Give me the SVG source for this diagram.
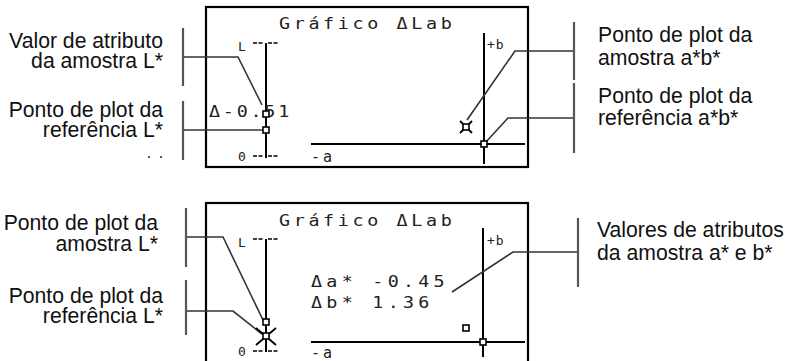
<svg xmlns="http://www.w3.org/2000/svg" width="793" height="361" viewBox="0 0 793 361">
<style>
.lbl{font-family:"Liberation Sans",Arial,sans-serif;font-size:21.2px;fill:#111}
.end{text-anchor:end}
.lcd{font-family:"DejaVu Sans Mono","Liberation Mono",monospace;fill:#222}
.title{font-size:16px;letter-spacing:3.15px}
.val{font-size:16px}
.small{font-size:13px}
.frame{fill:none;stroke:#000;stroke-width:2.2}
.axis{fill:none;stroke:#000;stroke-width:2}
.tick{fill:none;stroke:#000;stroke-width:1.4;stroke-dasharray:4 1.5}
.pt{fill:#fff;stroke:#000;stroke-width:1.6}
.lead{fill:none;stroke:#333;stroke-width:1.6}
.brk{fill:none;stroke:#555;stroke-width:2.2}
</style>

<!-- Top panel -->
<g id="panel-top">
  <rect class="frame" x="206" y="7" width="322" height="160"/>
  <text class="lcd title" transform="translate(279,29) scale(1.15,1)">Gráfico ΔLab</text>
  <line class="axis" x1="266" y1="43" x2="266" y2="158"/>
  <line class="tick" x1="253" y1="43" x2="264" y2="43"/>
  <line class="tick" x1="268" y1="43" x2="279" y2="43"/>
  <line class="tick" x1="253" y1="156" x2="264" y2="156"/>
  <line class="tick" x1="268" y1="156" x2="279" y2="156"/>
  <text class="lcd small" x="238" y="51">L</text>
  <text class="lcd small" x="238" y="161">0</text>
  <text class="lcd val" transform="translate(209,117) scale(1.15,1)" letter-spacing="2.4">Δ-0.51</text>
  <line class="axis" x1="484" y1="33" x2="484" y2="164"/>
  <line class="axis" x1="311" y1="144" x2="525" y2="144"/>
  <text class="lcd small" x="487" y="49" letter-spacing="1">+b</text>
  <text class="lcd" x="311" y="162" font-size="15" letter-spacing="3">-a</text>
</g>

<!-- Bottom panel -->
<g id="panel-bottom">
  <rect class="frame" x="206" y="203" width="322" height="170"/>
  <text class="lcd title" transform="translate(279,226) scale(1.15,1)">Gráfico ΔLab</text>
  <line class="axis" x1="266" y1="239" x2="266" y2="352"/>
  <line class="tick" x1="253" y1="239" x2="264" y2="239"/>
  <line class="tick" x1="268" y1="239" x2="279" y2="239"/>
  <line class="tick" x1="253" y1="351" x2="264" y2="351"/>
  <line class="tick" x1="268" y1="351" x2="279" y2="351"/>
  <text class="lcd small" x="238" y="247">L</text>
  <text class="lcd small" x="238" y="356">0</text>
  <text class="lcd val" transform="translate(311,287) scale(1.15,1)" letter-spacing="3.7">Δa* -0.45</text>
  <text class="lcd val" transform="translate(311,308) scale(1.15,1)" letter-spacing="3.7">Δb*  1.36</text>
  <line class="axis" x1="483" y1="228" x2="483" y2="357"/>
  <line class="axis" x1="311" y1="342" x2="525" y2="342"/>
  <text class="lcd small" x="487" y="245" letter-spacing="1">+b</text>
  <text class="lcd" x="311" y="358" font-size="15" letter-spacing="3">-a</text>
</g>

<!-- Connectors -->
<g id="connectors">
  <polyline class="lead" points="183,57 238,57 262,105"/>
  <polyline class="lead" points="183,130 263,130"/>
  <polyline class="lead" points="574,51 515,51 467,120"/>
  <polyline class="lead" points="574,118 508,118 485,143"/>
  <polyline class="lead" points="186,237 223,237 263,320"/>
  <polyline class="lead" points="186,311 233,311 262,334"/>
  <polyline class="lead" points="578,252 513,252 452,292"/>
</g>

<!-- Plot points -->
<g id="points">
  <rect class="pt" x="263" y="111" width="6" height="6"/>
  <rect class="pt" x="263" y="127" width="6" height="6"/>
  <path d="M460,121 L472,133 M472,121 L460,133" stroke="#000" stroke-width="1.8" fill="none"/>
  <rect class="pt" x="463" y="124" width="6" height="6"/>
  <rect class="pt" x="481" y="141" width="6" height="6"/>
  <rect class="pt" x="263" y="319" width="6" height="6"/>
  <path d="M256,328 L276,345 M276,328 L256,345" stroke="#000" stroke-width="1.8" fill="none"/>
  <rect class="pt" x="263" y="333" width="6" height="6"/>
  <rect class="pt" x="463" y="325" width="6" height="6" stroke-width="2"/>
  <rect class="pt" x="480" y="339" width="6" height="6"/>
</g>

<!-- Labels -->
<g id="label-valor-L">
  <line class="brk" x1="183" y1="28" x2="183" y2="86"/>
  <text class="lbl end" x="163" y="48">Valor de atributo</text>
  <text class="lbl end" x="163" y="68">da amostra L*</text>
</g>
<g id="label-ref-L-top">
  <line class="brk" x1="183" y1="101" x2="183" y2="160"/>
  <text class="lbl end" x="163" y="117">Ponto de plot da</text>
  <text class="lbl end" x="163" y="137">referência L*</text>
  <rect x="148" y="156" width="2" height="2" fill="#555"/>
  <rect x="160" y="156" width="2" height="2" fill="#555"/>
</g>
<g id="label-amostra-ab">
  <line class="brk" x1="574" y1="22" x2="574" y2="80"/>
  <text class="lbl" x="598" y="42">Ponto de plot da</text>
  <text class="lbl" x="598" y="65">amostra a*b*</text>
</g>
<g id="label-ref-ab">
  <line class="brk" x1="574" y1="83" x2="574" y2="153"/>
  <text class="lbl" x="598" y="103">Ponto de plot da</text>
  <text class="lbl" x="598" y="125">referência a*b*</text>
</g>
<g id="label-amostra-L">
  <line class="brk" x1="186" y1="208" x2="186" y2="267"/>
  <text class="lbl end" x="158" y="230">Ponto de plot da</text>
  <text class="lbl end" x="158" y="251">amostra L*</text>
</g>
<g id="label-ref-L-bottom">
  <line class="brk" x1="186" y1="280" x2="186" y2="335"/>
  <text class="lbl end" x="163" y="303">Ponto de plot da</text>
  <text class="lbl end" x="163" y="323">referência L*</text>
</g>
<g id="label-valores-ab">
  <line class="brk" x1="578" y1="218" x2="578" y2="287"/>
  <text class="lbl" x="597" y="237">Valores de atributos</text>
  <text class="lbl" x="597" y="260">da amostra a* e b*</text>
</g>
</svg>
